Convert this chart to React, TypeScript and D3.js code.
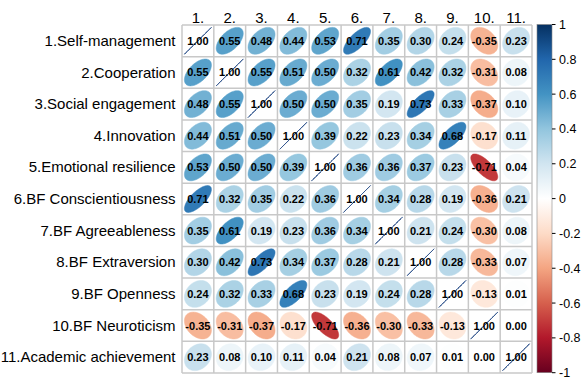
import React from "react";
import * as d3 from "d3";

const rowLabels = [
  "1.Self-management",
  "2.Cooperation",
  "3.Social engagement",
  "4.Innovation",
  "5.Emotional resilience",
  "6.BF Conscientiousness",
  "7.BF Agreeableness",
  "8.BF Extraversion",
  "9.BF Openness",
  "10.BF Neuroticism",
  "11.Academic achievement",
];
const colLabels = ["1.", "2.", "3.", "4.", "5.", "6.", "7.", "8.", "9.", "10.", "11."];

const r1 = [1.0, 0.55, 0.48, 0.44, 0.53, 0.71, 0.35, 0.3, 0.24, -0.35, 0.23];
const r2 = [0.55, 1.0, 0.55, 0.51, 0.5, 0.32, 0.61, 0.42, 0.32, -0.31, 0.08];
const r3 = [0.48, 0.55, 1.0, 0.5, 0.5, 0.35, 0.19, 0.73, 0.33, -0.37, 0.1];
const r4 = [0.44, 0.51, 0.5, 1.0, 0.39, 0.22, 0.23, 0.34, 0.68, -0.17, 0.11];
const r5 = [0.53, 0.5, 0.5, 0.39, 1.0, 0.36, 0.36, 0.37, 0.23, -0.71, 0.04];
const r6 = [0.71, 0.32, 0.35, 0.22, 0.36, 1.0, 0.34, 0.28, 0.19, -0.36, 0.21];
const r7 = [0.35, 0.61, 0.19, 0.23, 0.36, 0.34, 1.0, 0.21, 0.24, -0.3, 0.08];
const r8 = [0.3, 0.42, 0.73, 0.34, 0.37, 0.28, 0.21, 1.0, 0.28, -0.33, 0.07];
const r9 = [0.24, 0.32, 0.33, 0.68, 0.23, 0.19, 0.24, 0.28, 1.0, -0.13, 0.01];
const r10 = [-0.35, -0.31, -0.37, -0.17, -0.71, -0.36, -0.3, -0.33, -0.13, 1.0, 0.0];
const r11 = [0.23, 0.08, 0.1, 0.11, 0.04, 0.21, 0.08, 0.07, 0.01, 0.0, 1.0];
const matrix = [r1, r2, r3, r4, r5, r6, r7, r8, r9, r10, r11];

const legendTicks = [1, 0.8, 0.6, 0.4, 0.2, 0, -0.2, -0.4, -0.6, -0.8, -1];

const palette = [
  "#67001F", "#B2182B", "#D6604D", "#F4A582", "#FDDBC7", "#FFFFFF",
  "#D1E5F0", "#92C5DE", "#4393C3", "#2166AC", "#053061",
];

const FONT = "'Liberation Sans', Arial, Helvetica, sans-serif";

function ellipsePath(rho: number, cx: number, cy: number, w: number, h: number) {
  const a = Math.acos(Math.max(-1, Math.min(1, rho)));
  const pts: [number, number][] = d3.range(99).map((i) => {
    const k = (i / 98) * 2 * Math.PI;
    const x = Math.cos(k + a / 2) / 2;
    const y = Math.cos(k - a / 2) / 2;
    return [cx + 0.85 * x * w, cy - 0.85 * y * h];
  });
  return (d3.line()(pts) || "") + "Z";
}

export default function App() {
  const W = 585, H = 379;
  const left = 182, right = 532, top = 25, bottom = 373;
  const x = d3.scaleBand<number>().domain(d3.range(11)).range([left, right]);
  const y = d3.scaleBand<number>().domain(d3.range(11)).range([top, bottom]);
  const color = d3
    .scaleLinear<string>()
    .domain(d3.range(11).map((i) => -1 + i * 0.2))
    .range(palette)
    .interpolate(d3.interpolateRgb);
  const cbX0 = 537, cbX1 = 552, cbTop = 24.5, cbBottom = 372.7;
  const cy = d3.scaleLinear().domain([-1, 1]).range([cbBottom, cbTop]);
  const bw = x.bandwidth(), bh = y.bandwidth();

  return (
    <svg width={W} height={H} style={{ position: "absolute", left: 0, top: 0, background: "#fff" }}>
      <defs>
        <linearGradient id="cb" x1="0" y1="1" x2="0" y2="0">
          {palette.map((c, i) => (
            <stop key={i} offset={`${i * 10}%`} stopColor={c} />
          ))}
        </linearGradient>
      </defs>
      <rect x={0} y={0} width={W} height={H} fill="#fff" />
      {/* grid */}
      {d3.range(12).map((i) => (
        <line key={"v" + i} x1={left + i * bw} x2={left + i * bw} y1={top} y2={bottom} stroke="#c8c8c8" strokeWidth={1.5} />
      ))}
      {d3.range(12).map((i) => (
        <line key={"h" + i} y1={top + i * bh} y2={top + i * bh} x1={left} x2={right} stroke="#c8c8c8" strokeWidth={1.5} />
      ))}
      {/* ellipses */}
      {matrix.map((row, i) =>
        row.map((v, j) => {
          const cxp = x(j)! + bw / 2;
          const cyp = y(i)! + bh / 2;
          return (
            <path
              key={`e${i}-${j}`}
              d={ellipsePath(v, cxp, cyp, bw, bh)}
              fill={color(v)}
              stroke={i === j ? "#2a4f8a" : color(v)}
              strokeWidth={i === j ? 1 : 0.5}
            />
          );
        })
      )}
      {/* numbers */}
      {matrix.map((row, i) =>
        row.map((v, j) => (
          <text
            key={`t${i}-${j}`}
            x={x(j)! + bw / 2}
            y={y(i)! + bh / 2}
            dy="0.36em"
            textAnchor="middle"
            fontFamily={FONT}
            fontWeight="bold"
            fontSize={11}
            fill="#000"
          >
            {v.toFixed(2)}
          </text>
        ))
      )}
      {/* row labels */}
      {rowLabels.map((l, i) => (
        <text key={"r" + i} x={175.5} y={y(i)! + bh / 2} dy="0.34em" textAnchor="end" fontFamily={FONT} fontSize={15} fill="#000">
          {l}
        </text>
      ))}
      {/* column labels */}
      {colLabels.map((l, j) => (
        <text key={"c" + j} x={x(j)! + bw / 2} y={23.3} textAnchor="middle" fontFamily={FONT} fontSize={15} fill="#000">
          {l}
        </text>
      ))}
      {/* colorbar */}
      <rect x={cbX0} y={cbTop} width={cbX1 - cbX0} height={cbBottom - cbTop} fill="url(#cb)" stroke="#888" strokeWidth={0.6} />
      {legendTicks.map((t) => (
        <g key={"lt" + t}>
          <line x1={cbX1} x2={cbX1 + 3.5} y1={cy(t)} y2={cy(t)} stroke="#000" strokeWidth={1} />
          <text x={cbX1 + 7} y={cy(t)} dy="0.36em" fontFamily={FONT} fontSize={12.5} fill="#000">
            {String(t)}
          </text>
        </g>
      ))}
    </svg>
  );
}
